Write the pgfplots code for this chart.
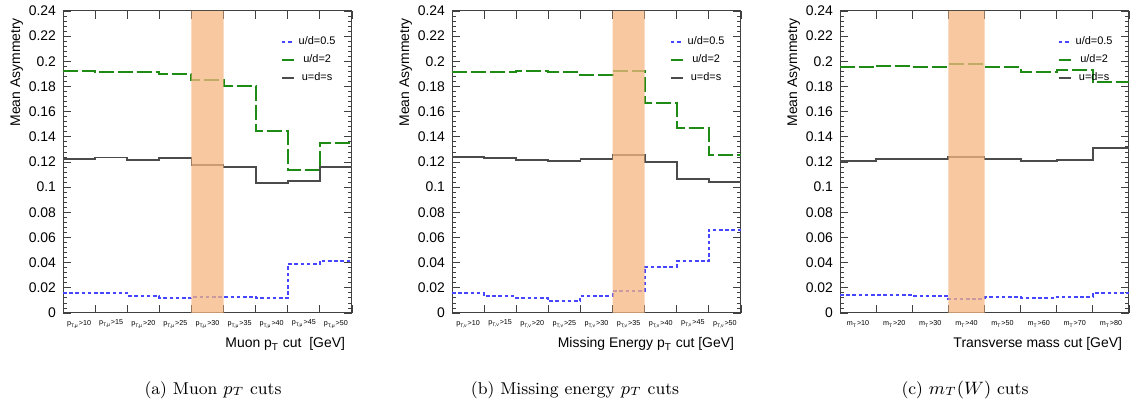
\documentclass[border=0pt]{standalone}
\usepackage{fontspec}
\usepackage{pgfplots}
\usepackage{pgfplotstable}
\pgfplotsset{compat=1.18}
\newfontfamily\hv{Liberation Sans}

\definecolor{udhalf}{RGB}{70,70,255}
\definecolor{udtwo}{RGB}{30,140,20}
\definecolor{uds}{RGB}{75,75,75}
\definecolor{band}{RGB}{246,182,128}

% bin index (left edge), last row repeats the last bin
\pgfplotstableread{
x blue green black
0 0.0158 0.1925 0.1225
1 0.0158 0.1912 0.1235
2 0.0134 0.1917 0.1219
3 0.0118 0.1896 0.1232
4 0.0126 0.1850 0.1176
5 0.0126 0.1805 0.1163
6 0.0116 0.1443 0.1035
7 0.0387 0.1139 0.1048
8 0.0416 0.1352 0.1163
9 0.0416 0.1352 0.1163
}\muon

\pgfplotstableread{
x blue green black
0 0.0158 0.1913 0.1242
1 0.0132 0.1913 0.1234
2 0.0118 0.1926 0.1218
3 0.0092 0.1916 0.1205
4 0.0137 0.1892 0.1226
5 0.0174 0.1926 0.1255
6 0.0368 0.1666 0.1197
7 0.0410 0.1471 0.1063
8 0.0663 0.1253 0.1040
9 0.0663 0.1253 0.1040
}\met

\pgfplotstableread{
x blue green black
0 0.0147 0.1953 0.1205
1 0.0147 0.1966 0.1226
2 0.0139 0.1958 0.1226
3 0.0113 0.1976 0.1242
4 0.0124 0.1958 0.1224
5 0.0118 0.1913 0.1205
6 0.0129 0.1932 0.1216
7 0.0158 0.1832 0.1313
8 0.0158 0.1832 0.1313
}\mtw

\pgfplotsset{
  asym/.style={
    scale only axis, width=144.5bp, height=151bp,
    anchor=south west,
    ymin=0, ymax=0.24,
    ytick={0,0.02,0.04,0.06,0.08,0.1,0.12,0.14,0.16,0.18,0.2,0.22,0.24},
    minor y tick num=4,
    x tick label as interval,
    /pgf/number format/assume math mode=true,
    /pgf/number format/fixed,
    /pgf/number format/precision=2,
    yticklabel style={font=\hv\fontsize{7}{8}\selectfont},
    xticklabel style={font=\hv\fontsize{3.6}{4}\selectfont},
    major tick length=4bp, minor tick length=2bp,
    tick style={black!75, line width=0.4bp},
    axis line style={black!75, line width=0.5bp},
    ylabel={Mean Asymmetry},
    ylabel style={font=\hv\fontsize{7}{8}\selectfont, at={(ticklabel cs:1,-4bp)}, anchor=south east},
    xlabel style={font=\hv\fontsize{7}{8}\selectfont, at={(rel axis cs:1,0)}, anchor=base east, yshift=-17.5bp},
    legend style={draw=none, fill=none, at={(rel axis cs:0.752,0.93)}, anchor=north west,
      font=\hv\fontsize{5.5}{6}\selectfont, row sep=-0.5bp, inner sep=0pt},
    legend image code/.code={\draw[#1] (0bp,0bp) -- (6bp,0bp);},
  },
  lhalf/.style={const plot, udhalf, line width=1bp, dash pattern=on 1.8bp off 1.3bp},
  ltwo/.style={const plot, udtwo, line width=1bp, dash pattern=on 7.5bp off 2bp},
  lsame/.style={const plot, uds, line width=0.9bp},
  lband/.style={fill=band, draw=none, fill opacity=0.75, forget plot},
}

\begin{document}
\begin{tikzpicture}
\useasboundingbox (0bp,0bp) rectangle (568.5bp,204bp);

\begin{axis}[asym, at={(31.5bp,47.5bp)}, xmin=0, xmax=9,
    xtick={0,...,9},
    xticklabels={p\textsubscript{T,μ}>10, p\textsubscript{T,μ}>15, p\textsubscript{T,μ}>20,
      p\textsubscript{T,μ}>25, p\textsubscript{T,μ}>30, p\textsubscript{T,μ}>35,
      p\textsubscript{T,μ}>40, p\textsubscript{T,μ}>45, p\textsubscript{T,μ}>50},
    xlabel={Muon p\textsubscript{T} cut\ \ [GeV]}]
\addplot[lhalf] table[x=x, y=blue] {\muon};
\addplot[ltwo] table[x=x, y=green] {\muon};
\addplot[lsame] table[x=x, y=black] {\muon};
\addplot[lband] coordinates {(4,0) (4,0.24) (5,0.24) (5,0)} \closedcycle;
\legend{u/d=0.5, u/d=2, u=d=s}
\end{axis}

\begin{axis}[asym, at={(226bp,47.5bp)}, xmin=0, xmax=9,
    xtick={0,...,9},
    xticklabels={p\textsubscript{T,ν}>10, p\textsubscript{T,ν}>15, p\textsubscript{T,ν}>20,
      p\textsubscript{T,ν}>25, p\textsubscript{T,ν}>30, p\textsubscript{T,ν}>35,
      p\textsubscript{T,ν}>40, p\textsubscript{T,ν}>45, p\textsubscript{T,ν}>50},
    xlabel={Missing Energy p\textsubscript{T} cut [GeV]}]
\addplot[lhalf] table[x=x, y=blue] {\met};
\addplot[ltwo] table[x=x, y=green] {\met};
\addplot[lsame] table[x=x, y=black] {\met};
\addplot[lband] coordinates {(5,0) (5,0.24) (6,0.24) (6,0)} \closedcycle;
\legend{u/d=0.5, u/d=2, u=d=s}
\end{axis}

\begin{axis}[asym, at={(420bp,47.5bp)}, xmin=0, xmax=8,
    xtick={0,...,8},
    xticklabels={m\textsubscript{T}>10, m\textsubscript{T}>20, m\textsubscript{T}>30,
      m\textsubscript{T}>40, m\textsubscript{T}>50, m\textsubscript{T}>60,
      m\textsubscript{T}>70, m\textsubscript{T}>80},
    xlabel={Transverse mass cut [GeV]}]
\addplot[lhalf] table[x=x, y=blue] {\mtw};
\addplot[ltwo] table[x=x, y=green] {\mtw};
\addplot[lsame] table[x=x, y=black] {\mtw};
\addplot[lband] coordinates {(3,0) (3,0.24) (4,0.24) (4,0)} \closedcycle;
\legend{u/d=0.5, u/d=2, u=d=s}
\end{axis}

\node[font=\fontsize{8.6}{10}\selectfont, anchor=base] at (106.5bp,7bp) {(a) Muon $p_T$ cuts};
\node[font=\fontsize{8.6}{10}\selectfont, anchor=base] at (287.5bp,7bp) {(b) Missing energy $p_T$ cuts};
\node[font=\fontsize{8.6}{10}\selectfont, anchor=base] at (482.5bp,7bp) {(c) $m_T(W)$ cuts};
\end{tikzpicture}
\end{document}
